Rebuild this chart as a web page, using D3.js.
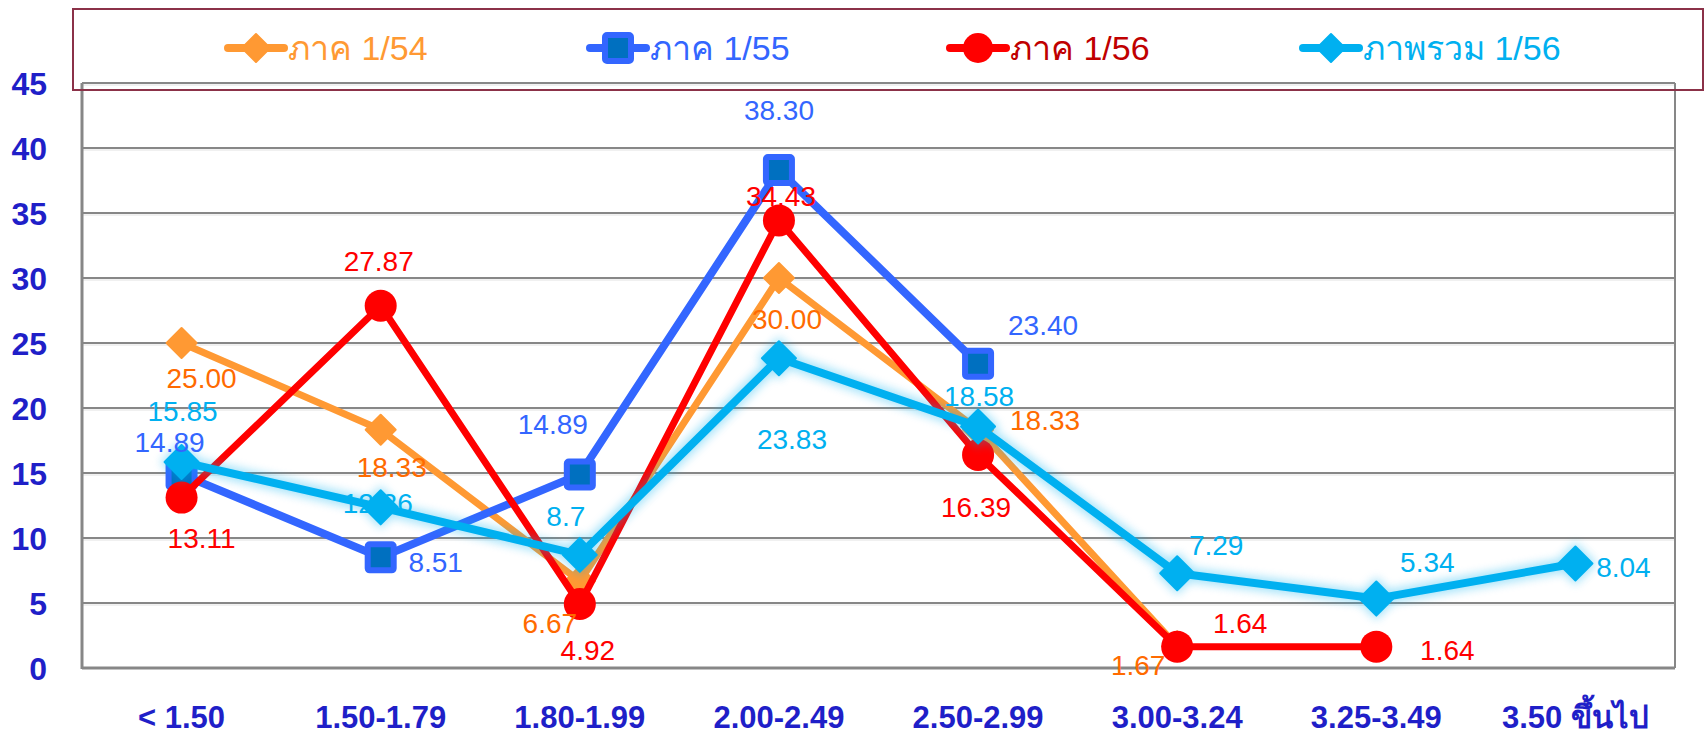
<!DOCTYPE html>
<html><head><meta charset="utf-8">
<script src="https://cdn.jsdelivr.net/npm/d3@7/dist/d3.min.js"></script>
<style>
html,body{margin:0;padding:0;background:#fff;}
svg{display:block;}
text{font-family:"Liberation Sans",Arial,"Noto Sans",sans-serif;}
</style></head>
<body>
<svg id="chart" width="1708" height="736"></svg>
<script>
const categories = ["< 1.50","1.50-1.79","1.80-1.99","2.00-2.49","2.50-2.99","3.00-3.24","3.25-3.49","3.50 ขึ้นไป"];
const seriesNames = ["ภาค 1/54","ภาค 1/55","ภาค 1/56","ภาพรวม 1/56"];
const term154 = [25.00, 18.33, 6.67, 30.00, 18.33, 1.67, null, null];
const term155 = [14.89, 8.51, 14.89, 38.30, 23.40, null, null, null];
const term156 = [13.11, 27.87, 4.92, 34.43, 16.39, 1.64, 1.64, null];
const overall156 = [15.85, 12.36, 8.7, 23.83, 18.58, 7.29, 5.34, 8.04];
const labels154 = ["25.00","18.33","6.67","30.00","18.33","1.67",null,null];
const labels155 = ["14.89","8.51","14.89","38.30","23.40",null,null,null];
const labels156 = ["13.11","27.87","4.92","34.43","16.39","1.64","1.64",null];
const labelsAll = ["15.85","12.36","8.7","23.83","18.58","7.29","5.34","8.04"];
const yTicks = [0,5,10,15,20,25,30,35,40,45];

// label placement offsets (layout only)
const off154 = [[20,35],[11,37],[-30,42],[8,41],[67,-10],[-39,19]];
const off155 = [[-12,-33],[55,5],[-27,-51],[0,-60],[65,-39]];
const off156 = [[20,40],[-2,-45],[8,46],[2,-24],[-2,52],[63,-24],[71,3]];
const offAll = [[1,-51],[-3,-4],[-14,-39],[13,81],[1,-31],[39,-28],[51,-37],[48,3]];

const series = [
  {name:seriesNames[0], values:term154, labels:labels154, offs:off154, line:"#FF9933", lab:"#FF6A00", legendText:"#FF9933", shape:"diamond", r:15, w:7},
  {name:seriesNames[1], values:term155, labels:labels155, offs:off155, line:"#3366FF", lab:"#3366FF", legendText:"#3366FF", shape:"square", r:16, w:8},
  {name:seriesNames[2], values:term156, labels:labels156, offs:off156, line:"#FF0000", lab:"#FF0000", legendText:"#C00000", shape:"circle", r:16, w:7},
  {name:seriesNames[3], values:overall156, labels:labelsAll, offs:offAll, line:"#00B0F0", lab:"#00B0F0", legendText:"#00B0F0", shape:"diamond", r:17, w:8, glow:true}
];

const svg = d3.select("#chart");
const L=82, R=1675, T=83, B=668;
const x = d3.scaleBand().domain(categories).range([L,R]).padding(0);
const cx = c => x(c) + x.bandwidth()/2;
const y = d3.scaleLinear().domain([0,45]).range([B,T]);

const defs = svg.append("defs");
const f = defs.append("filter").attr("id","glow").attr("x","-20%").attr("y","-20%").attr("width","140%").attr("height","140%");
f.append("feGaussianBlur").attr("stdDeviation",5);

// gridlines
const grid = svg.append("g");
grid.selectAll("line").data(yTicks.filter(t=>t>0)).join("line")
  .attr("x1",L).attr("x2",R).attr("y1",d=>y(d)).attr("y2",d=>y(d))
  .attr("stroke","#878787").attr("stroke-width",2);
grid.selectAll("line.sh").data(yTicks.filter(t=>t>0)).join("line").attr("class","sh")
  .attr("x1",L).attr("x2",R).attr("y1",d=>y(d)+2).attr("y2",d=>y(d)+2)
  .attr("stroke","#e2e2e2").attr("stroke-width",1);
svg.append("line").attr("x1",R).attr("x2",R).attr("y1",T).attr("y2",B).attr("stroke","#878787").attr("stroke-width",2);
// axes
const yAxis = d3.axisLeft(y).tickValues(yTicks).tickSize(0).tickPadding(0);
const gy = svg.append("g").attr("transform",`translate(${L-35},0)`).call(yAxis);
gy.select(".domain").remove();
gy.selectAll("text").attr("fill","#1F1FC8").style("font-size","32px").style("font-weight","bold").attr("dy","0.36em");
svg.append("line").attr("x1",L).attr("x2",L).attr("y1",T).attr("y2",B+1).attr("stroke","#878787").attr("stroke-width",3);
svg.append("line").attr("x1",L).attr("x2",R).attr("y1",B).attr("y2",B).attr("stroke","#878787").attr("stroke-width",3);

const xAxis = d3.axisBottom(x).tickSize(0).tickPadding(0);
const gx = svg.append("g").attr("transform",`translate(0,${B+38})`).call(xAxis);
gx.select(".domain").remove();
gx.selectAll("text").attr("fill","#1F1FC8").style("font-size","31px").style("font-weight","bold").attr("dy","0.71em");

function marker(g, s, px, py){
  if(s.shape==="diamond"){
    g.append("path").attr("d",`M${px},${py-s.r}L${px+s.r},${py}L${px},${py+s.r}L${px-s.r},${py}Z`)
      .attr("fill",s.line).attr("stroke",s.line).attr("stroke-width",2).attr("stroke-linejoin","round");
  } else if(s.shape==="square"){
    g.append("rect").attr("x",px-13).attr("y",py-13).attr("width",26).attr("height",26).attr("rx",2)
      .attr("fill","#0070C0").attr("stroke",s.line).attr("stroke-width",6);
  } else {
    g.append("circle").attr("cx",px).attr("cy",py).attr("r",s.r).attr("fill",s.line);
  }
}

const line = d3.line().defined(d=>d.v!=null).x(d=>cx(d.c)).y(d=>y(d.v));
const marks = svg.append("g");
series.forEach(s=>{
  const pts = categories.map((c,i)=>({c, v:s.values[i]}));
  const g = marks.append("g");
  if(s.glow){
    const gg = g.append("g").attr("filter","url(#glow)").attr("opacity",0.35);
    gg.append("path").attr("d",line(pts)).attr("fill","none").attr("stroke",s.line).attr("stroke-width",s.w+6).attr("stroke-linejoin","round");
    pts.filter(d=>d.v!=null).forEach(d=>marker(gg,{...s,r:s.r+3},cx(d.c),y(d.v)));
  }
  g.append("path").attr("d",line(pts)).attr("fill","none").attr("stroke",s.line)
    .attr("stroke-width",s.w).attr("stroke-linejoin","round").attr("stroke-linecap","round");
  pts.filter(d=>d.v!=null).forEach(d=>marker(g,s,cx(d.c),y(d.v)));
});

// data labels
const lg = svg.append("g");
series.forEach(s=>{
  categories.forEach((c,i)=>{
    if(s.values[i]==null) return;
    const o = s.offs[i];
    lg.append("text").attr("x",cx(c)+o[0]).attr("y",y(s.values[i])+o[1])
      .attr("text-anchor","middle").attr("dy","0.36em")
      .attr("fill",s.lab).style("font-size","28px").text(s.labels[i]);
  });
});

// legend
const leg = svg.append("g");
leg.append("rect").attr("x",73).attr("y",9).attr("width",1630).attr("height",81)
  .attr("fill","none").attr("stroke","#8B3148").attr("stroke-width",2);
const legX = [256,618,978,1331];
series.forEach((s,i)=>{
  const gx0 = legX[i], gy0 = 48;
  const g = leg.append("g");
  g.append("line").attr("x1",gx0-28).attr("x2",gx0+28).attr("y1",gy0).attr("y2",gy0)
    .attr("stroke",s.line).attr("stroke-width",8).attr("stroke-linecap","round");
  marker(g,{...s, r:s.shape==="circle"?15:14},gx0,gy0);
  g.append("text").attr("x",gx0+32).attr("y",gy0).attr("dy","0.36em")
    .attr("fill",s.legendText).style("font-size","34px").text(s.name);
});
</script>
</body></html>
